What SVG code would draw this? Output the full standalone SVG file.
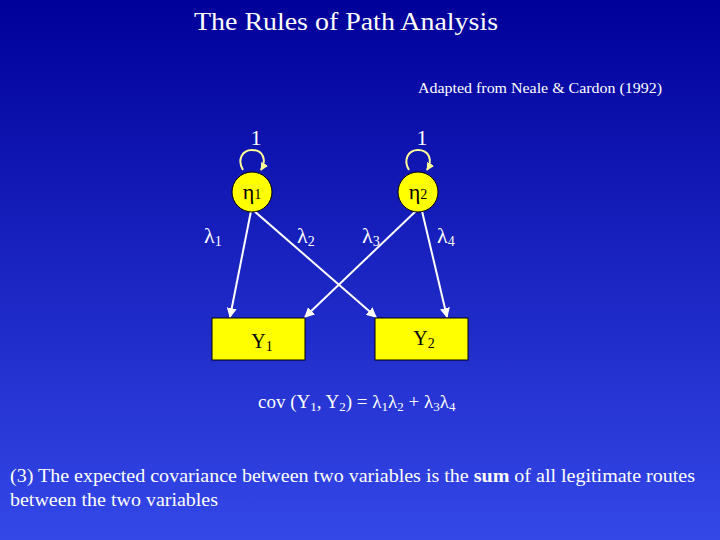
<svg xmlns="http://www.w3.org/2000/svg" width="720" height="540" viewBox="0 0 720 540">
<defs>
<linearGradient id="bg" x1="0" y1="0" x2="0" y2="1"><stop offset="0" stop-color="#00009a"/><stop offset="1" stop-color="#3448e8"/></linearGradient>
<marker id="ah" viewBox="0 0 10 10" refX="9" refY="5" markerWidth="5" markerHeight="5" orient="auto"><path d="M0,0L10,5L0,10z" fill="#fff"/></marker>
<marker id="lh" viewBox="0 0 10 10" refX="9" refY="5" markerWidth="4" markerHeight="4" orient="auto"><path d="M0,0L10,5L0,10z" fill="#ffff99"/></marker>
<style>
text{font-family:"Liberation Serif",serif;fill:#fff}
.n{fill:#ffff00;stroke:#000;stroke-width:1}
.c{stroke:#fff;stroke-width:2;fill:none;marker-end:url(#ah)}
.l{stroke:#ffff99;stroke-width:2;fill:none;marker-end:url(#lh)}
.b{fill:#000}
</style>
</defs>
<rect width="720" height="540" fill="url(#bg)"/>
<text x="194" y="30" font-size="26" textLength="304" lengthAdjust="spacingAndGlyphs">The Rules of Path Analysis</text>
<text x="418" y="93" font-size="15" textLength="244" lengthAdjust="spacingAndGlyphs">Adapted from Neale &amp; Cardon (1992)</text>
<g id="connectors">
<line class="c" x1="251" y1="211" x2="230" y2="317"/>
<line class="c" x1="253" y1="210" x2="376" y2="317"/>
<line class="c" x1="417" y1="210" x2="305" y2="317"/>
<line class="c" x1="422" y1="211" x2="447" y2="317"/>
<path class="l" d="M243,170 C237,160 242,150 252,150 C263,150 267,160 261,170"/>
<path class="l" d="M409,170 C403,160 408,150 418,150 C429,150 433,160 427,170"/>
</g>
<g id="eta1"><circle class="n" cx="252" cy="192" r="20"/><text class="b" x="252" y="199" font-size="22" text-anchor="middle">η<tspan font-size="14">1</tspan></text><text x="256" y="145" font-size="22" text-anchor="middle">1</text></g>
<g id="eta2"><circle class="n" cx="418" cy="192" r="20"/><text class="b" x="418" y="199" font-size="22" text-anchor="middle">η<tspan font-size="14">2</tspan></text><text x="422" y="145" font-size="22" text-anchor="middle">1</text></g>
<g id="Y1"><rect class="n" x="212" y="318" width="93" height="42"/><text class="b" x="262" y="348" font-size="20" text-anchor="middle">Y<tspan font-size="14" dy="3">1</tspan></text></g>
<g id="Y2"><rect class="n" x="375" y="318" width="93" height="42"/><text class="b" x="424" y="345" font-size="20" text-anchor="middle">Y<tspan font-size="14" dy="3">2</tspan></text></g>
<text x="204" y="243" font-size="22">λ<tspan font-size="14" dy="3">1</tspan></text>
<text x="297" y="243" font-size="22">λ<tspan font-size="14" dy="3">2</tspan></text>
<text x="362" y="243" font-size="22">λ<tspan font-size="14" dy="3">3</tspan></text>
<text x="437" y="243" font-size="22">λ<tspan font-size="14" dy="3">4</tspan></text>
<text x="258" y="408" font-size="19">cov (Y<tspan font-size="13" dy="3">1</tspan><tspan dy="-3">, Y</tspan><tspan font-size="13" dy="3">2</tspan><tspan dy="-3">) = λ</tspan><tspan font-size="13" dy="3">1</tspan><tspan dy="-3">λ</tspan><tspan font-size="13" dy="3">2</tspan><tspan dy="-3"> + λ</tspan><tspan font-size="13" dy="3">3</tspan><tspan dy="-3">λ</tspan><tspan font-size="13" dy="3">4</tspan></text>
<text x="10" y="482" font-size="19" textLength="685" lengthAdjust="spacingAndGlyphs">(3) The expected covariance between two variables is the <tspan font-weight="bold">sum</tspan> of all legitimate routes</text>
<text x="10" y="506" font-size="19" textLength="208" lengthAdjust="spacingAndGlyphs">between the two variables</text>
</svg>
